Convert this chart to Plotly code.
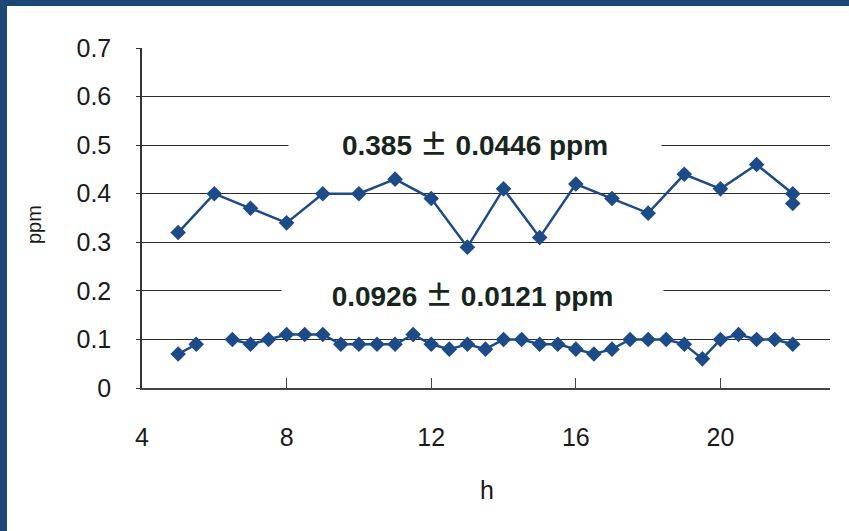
import plotly.graph_objects as go

# Hourly readings (upper series) and half-hourly readings (lower series)
hours_high = [5, 6, 7, 8, 9, 10, 11, 12, 13, 14, 15, 16, 17, 18, 19, 20, 21, 22, 22]
ppm_high = [0.32, 0.40, 0.37, 0.34, 0.40, 0.40, 0.43, 0.39, 0.29, 0.41,
            0.31, 0.42, 0.39, 0.36, 0.44, 0.41, 0.46, 0.40, 0.38]

hours_low = [5, 5.5, 6, 6.5, 7, 7.5, 8, 8.5, 9, 9.5, 10, 10.5, 11, 11.5, 12,
             12.5, 13, 13.5, 14, 14.5, 15, 15.5, 16, 16.5, 17, 17.5, 18, 18.5,
             19, 19.5, 20, 20.5, 21, 21.5, 22]
ppm_low = [0.07, 0.09, None, 0.10, 0.09, 0.10, 0.11, 0.11, 0.11, 0.09, 0.09,
           0.09, 0.09, 0.11, 0.09, 0.08, 0.09, 0.08, 0.10, 0.10, 0.09, 0.09,
           0.08, 0.07, 0.08, 0.10, 0.10, 0.10, 0.09, 0.06, 0.10, 0.11, 0.10,
           0.10, 0.09]

mean_high, sd_high = "0.385", "0.0446"
mean_low, sd_low = "0.0926", "0.0121"

x_ticks = [4, 8, 12, 16, 20]
y_ticks = [0, 0.1, 0.2, 0.3, 0.4, 0.5, 0.6, 0.7]

MARK = "#1d4b87"
FRAME = "#1c4878"
TICK_FONT = dict(family="Liberation Sans Narrow, Liberation Sans, sans-serif",
                 size=25, color="#1a1a1a")

fig = go.Figure()
for xs, ys in [(hours_high, ppm_high), (hours_low, ppm_low)]:
    fig.add_trace(go.Scatter(
        x=xs, y=ys, mode="lines+markers", connectgaps=False,
        line=dict(color=MARK, width=2.5),
        marker=dict(symbol="diamond", size=12, color=MARK),
        showlegend=False, hoverinfo="skip",
    ))

W, H = 849, 531
L, R, T, B = 142, 19, 48, 143

fig.update_layout(
    width=W, height=H,
    margin=dict(l=L, r=R, t=T, b=B),
    paper_bgcolor="white", plot_bgcolor="white",
    xaxis=dict(
        range=[4, 23.03], tickvals=x_ticks, ticks="inside", ticklen=10,
        tickcolor="#444", tickwidth=1, showgrid=False, zeroline=False,
        showline=True, linecolor="#444", linewidth=1.5,
        tickfont=TICK_FONT, ticklabelstandoff=26,
    ),
    yaxis=dict(
        range=[0, 0.7], tickvals=y_ticks, ticks="outside", ticklen=4,
        tickcolor="#333", showgrid=True, gridcolor="#2a2a2a", gridwidth=1.2,
        zeroline=False, showline=True, linecolor="#333", linewidth=1.5,
        tickfont=TICK_FONT, ticklabelstandoff=20,
    ),
)

pw, ph = W - L - R, H - T - B

def px(x):
    return (x - L) / pw

def py(y):
    return (H - B - y) / ph

ann_font = dict(family="Liberation Sans, Arial, sans-serif", size=28, color="#17261d")
PM = "<span style='font-family:Noto Sans CJK JP'>\u00b1</span>"

def stat_label(mean, sd):
    return "<b>" + mean + " " + PM + " " + sd + " ppm</b>"

fig.add_annotation(x=13.2, y=0.504, xref="x", yref="y", text=stat_label(mean_high, sd_high),
                   showarrow=False, bgcolor="white", width=370, height=34,
                   font=ann_font)
fig.add_annotation(x=13.15, y=0.194, xref="x", yref="y", text=stat_label(mean_low, sd_low),
                   showarrow=False, bgcolor="white", width=379, height=34,
                   font=ann_font)

# Axis titles
fig.add_annotation(x=px(487), y=py(490), xref="paper", yref="paper", text="h",
                   xanchor="center", yanchor="middle", showarrow=False, font=TICK_FONT)
fig.add_annotation(x=px(34), y=py(225), xref="paper", yref="paper", text="ppm",
                   xanchor="center", yanchor="middle", showarrow=False, textangle=-90,
                   font=dict(family="Liberation Sans, Arial, sans-serif", size=20, color="#1a1a1a"))

# Blue frame on top and left edges
fig.add_shape(type="rect", xref="paper", yref="paper", x0=px(0), x1=px(W), y0=py(6), y1=py(0),
              fillcolor=FRAME, line_width=0, layer="above")
fig.add_shape(type="rect", xref="paper", yref="paper", x0=px(0), x1=px(7), y0=py(H), y1=py(0),
              fillcolor=FRAME, line_width=0, layer="above")

fig.write_html("out.html")
